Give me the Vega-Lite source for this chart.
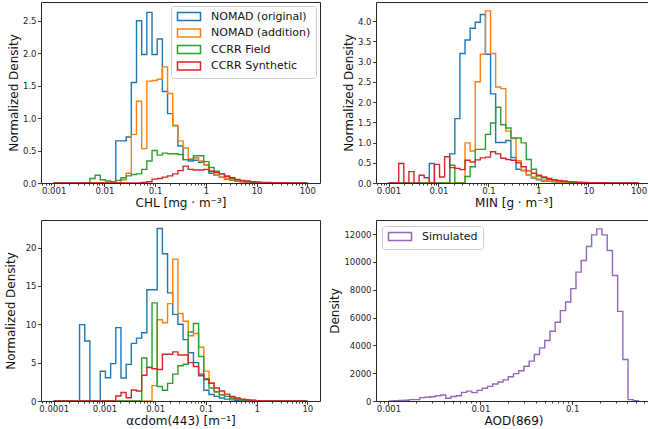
{
  "$schema": "https://vega.github.io/schema/vega-lite/v6.json",
  "background": "white",
  "padding": {"left": 3, "top": 1, "right": 0, "bottom": 0},
  "columns": 2,
  "spacing": {"row": 37, "column": 56},
  "bounds": "flush",
  "datasets": {
    "chl": [
      {"x": 0.001, "NOMAD (original)": 0, "NOMAD (addition)": 0, "CCRR Field": 0, "CCRR Synthetic": 0},
      {"x": 0.0012649, "NOMAD (original)": 0, "NOMAD (addition)": 0, "CCRR Field": 0, "CCRR Synthetic": 0},
      {"x": 0.0015999, "NOMAD (original)": 0, "NOMAD (addition)": 0, "CCRR Field": 0, "CCRR Synthetic": 0},
      {"x": 0.0020236, "NOMAD (original)": 0, "NOMAD (addition)": 0, "CCRR Field": 0, "CCRR Synthetic": 0},
      {"x": 0.0025596, "NOMAD (original)": 0, "NOMAD (addition)": 0, "CCRR Field": 0, "CCRR Synthetic": 0},
      {"x": 0.0032375, "NOMAD (original)": 0, "NOMAD (addition)": 0, "CCRR Field": 0, "CCRR Synthetic": 0},
      {"x": 0.004095, "NOMAD (original)": 0, "NOMAD (addition)": 0, "CCRR Field": 0, "CCRR Synthetic": 0},
      {"x": 0.0051796, "NOMAD (original)": 0, "NOMAD (addition)": 0, "CCRR Field": 0.07, "CCRR Synthetic": 0},
      {"x": 0.0065515, "NOMAD (original)": 0, "NOMAD (addition)": 0, "CCRR Field": 0.12, "CCRR Synthetic": 0},
      {"x": 0.0082868, "NOMAD (original)": 0, "NOMAD (addition)": 0, "CCRR Field": 0.05, "CCRR Synthetic": 0},
      {"x": 0.010481, "NOMAD (original)": 0, "NOMAD (addition)": 0, "CCRR Field": 0.03, "CCRR Synthetic": 0},
      {"x": 0.013257, "NOMAD (original)": 0, "NOMAD (addition)": 0, "CCRR Field": 0.02, "CCRR Synthetic": 0},
      {"x": 0.016769, "NOMAD (original)": 0.65, "NOMAD (addition)": 0, "CCRR Field": 0.04, "CCRR Synthetic": 0},
      {"x": 0.02121, "NOMAD (original)": 0.65, "NOMAD (addition)": 0.05, "CCRR Field": 0.08, "CCRR Synthetic": 0},
      {"x": 0.026827, "NOMAD (original)": 0.71, "NOMAD (addition)": 0.15, "CCRR Field": 0.11, "CCRR Synthetic": 0},
      {"x": 0.033932, "NOMAD (original)": 1.55, "NOMAD (addition)": 0.75, "CCRR Field": 0.13, "CCRR Synthetic": 0},
      {"x": 0.04292, "NOMAD (original)": 2.5, "NOMAD (addition)": 1.26, "CCRR Field": 0.14, "CCRR Synthetic": 0},
      {"x": 0.054287, "NOMAD (original)": 1.98, "NOMAD (addition)": 0.53, "CCRR Field": 0.21, "CCRR Synthetic": 0.01},
      {"x": 0.068666, "NOMAD (original)": 2.63, "NOMAD (addition)": 1.57, "CCRR Field": 0.34, "CCRR Synthetic": 0.02},
      {"x": 0.086852, "NOMAD (original)": 1.98, "NOMAD (addition)": 1.58, "CCRR Field": 0.5, "CCRR Synthetic": 0.06},
      {"x": 0.10986, "NOMAD (original)": 2.22, "NOMAD (addition)": 1.6, "CCRR Field": 0.43, "CCRR Synthetic": 0.07},
      {"x": 0.13895, "NOMAD (original)": 1.41, "NOMAD (addition)": 1.79, "CCRR Field": 0.46, "CCRR Synthetic": 0.09},
      {"x": 0.17575, "NOMAD (original)": 1.07, "NOMAD (addition)": 1.38, "CCRR Field": 0.45, "CCRR Synthetic": 0.11},
      {"x": 0.22231, "NOMAD (original)": 0.88, "NOMAD (addition)": 0.89, "CCRR Field": 0.45, "CCRR Synthetic": 0.14},
      {"x": 0.28119, "NOMAD (original)": 0.57, "NOMAD (addition)": 0.65, "CCRR Field": 0.44, "CCRR Synthetic": 0.19},
      {"x": 0.35567, "NOMAD (original)": 0.36, "NOMAD (addition)": 0.54, "CCRR Field": 0.36, "CCRR Synthetic": 0.26},
      {"x": 0.44987, "NOMAD (original)": 0.34, "NOMAD (addition)": 0.37, "CCRR Field": 0.36, "CCRR Synthetic": 0.21},
      {"x": 0.56902, "NOMAD (original)": 0.35, "NOMAD (addition)": 0.39, "CCRR Field": 0.42, "CCRR Synthetic": 0.2},
      {"x": 0.71969, "NOMAD (original)": 0.32, "NOMAD (addition)": 0.34, "CCRR Field": 0.42, "CCRR Synthetic": 0.2},
      {"x": 0.9103, "NOMAD (original)": 0.28, "NOMAD (addition)": 0.28, "CCRR Field": 0.33, "CCRR Synthetic": 0.21},
      {"x": 1.1514, "NOMAD (original)": 0.15, "NOMAD (addition)": 0.18, "CCRR Field": 0.24, "CCRR Synthetic": 0.18},
      {"x": 1.4564, "NOMAD (original)": 0.12, "NOMAD (addition)": 0.12, "CCRR Field": 0.18, "CCRR Synthetic": 0.16},
      {"x": 1.8421, "NOMAD (original)": 0.09, "NOMAD (addition)": 0.09, "CCRR Field": 0.14, "CCRR Synthetic": 0.14},
      {"x": 2.33, "NOMAD (original)": 0.06, "NOMAD (addition)": 0.07, "CCRR Field": 0.11, "CCRR Synthetic": 0.1},
      {"x": 2.9472, "NOMAD (original)": 0.04, "NOMAD (addition)": 0.045, "CCRR Field": 0.07, "CCRR Synthetic": 0.08},
      {"x": 3.7276, "NOMAD (original)": 0.03, "NOMAD (addition)": 0.03, "CCRR Field": 0.05, "CCRR Synthetic": 0.055},
      {"x": 4.7149, "NOMAD (original)": 0.02, "NOMAD (addition)": 0.02, "CCRR Field": 0.03, "CCRR Synthetic": 0.04},
      {"x": 5.9636, "NOMAD (original)": 0.01, "NOMAD (addition)": 0.01, "CCRR Field": 0.02, "CCRR Synthetic": 0.03},
      {"x": 7.5432, "NOMAD (original)": 0.006, "NOMAD (addition)": 0.005, "CCRR Field": 0.01, "CCRR Synthetic": 0.02},
      {"x": 9.5412, "NOMAD (original)": 0.004, "NOMAD (addition)": 0.003, "CCRR Field": 0.006, "CCRR Synthetic": 0.015},
      {"x": 12.068, "NOMAD (original)": 0.002, "NOMAD (addition)": 0, "CCRR Field": 0.003, "CCRR Synthetic": 0.01},
      {"x": 15.264, "NOMAD (original)": 0, "NOMAD (addition)": 0, "CCRR Field": 0, "CCRR Synthetic": 0.007},
      {"x": 19.307, "NOMAD (original)": 0, "NOMAD (addition)": 0, "CCRR Field": 0, "CCRR Synthetic": 0.005},
      {"x": 24.421, "NOMAD (original)": 0, "NOMAD (addition)": 0, "CCRR Field": 0, "CCRR Synthetic": 0.004},
      {"x": 30.889, "NOMAD (original)": 0, "NOMAD (addition)": 0, "CCRR Field": 0, "CCRR Synthetic": 0.003},
      {"x": 39.07, "NOMAD (original)": 0, "NOMAD (addition)": 0, "CCRR Field": 0, "CCRR Synthetic": 0.002},
      {"x": 49.419, "NOMAD (original)": 0, "NOMAD (addition)": 0, "CCRR Field": 0, "CCRR Synthetic": 0},
      {"x": 62.508, "NOMAD (original)": 0, "NOMAD (addition)": 0, "CCRR Field": 0, "CCRR Synthetic": 0},
      {"x": 79.064, "NOMAD (original)": 0, "NOMAD (addition)": 0, "CCRR Field": 0, "CCRR Synthetic": 0},
      {"x": 100, "NOMAD (original)": 0, "NOMAD (addition)": 0, "CCRR Field": 0, "CCRR Synthetic": 0}
    ],
    "min": [
      {"x": 0.001, "NOMAD (original)": 0, "NOMAD (addition)": 0, "CCRR Field": 0, "CCRR Synthetic": 0},
      {"x": 0.0012649, "NOMAD (original)": 0, "NOMAD (addition)": 0, "CCRR Field": 0, "CCRR Synthetic": 0},
      {"x": 0.0015999, "NOMAD (original)": 0, "NOMAD (addition)": 0, "CCRR Field": 0, "CCRR Synthetic": 0.48},
      {"x": 0.0020236, "NOMAD (original)": 0, "NOMAD (addition)": 0, "CCRR Field": 0, "CCRR Synthetic": 0},
      {"x": 0.0025596, "NOMAD (original)": 0, "NOMAD (addition)": 0, "CCRR Field": 0, "CCRR Synthetic": 0.28},
      {"x": 0.0032375, "NOMAD (original)": 0, "NOMAD (addition)": 0, "CCRR Field": 0, "CCRR Synthetic": 0},
      {"x": 0.004095, "NOMAD (original)": 0, "NOMAD (addition)": 0, "CCRR Field": 0, "CCRR Synthetic": 0.19},
      {"x": 0.0051796, "NOMAD (original)": 0, "NOMAD (addition)": 0, "CCRR Field": 0, "CCRR Synthetic": 0.13},
      {"x": 0.0065515, "NOMAD (original)": 0.48, "NOMAD (addition)": 0, "CCRR Field": 0, "CCRR Synthetic": 0},
      {"x": 0.0082868, "NOMAD (original)": 0, "NOMAD (addition)": 0, "CCRR Field": 0, "CCRR Synthetic": 0.46},
      {"x": 0.010481, "NOMAD (original)": 0, "NOMAD (addition)": 0, "CCRR Field": 0, "CCRR Synthetic": 0.15},
      {"x": 0.013257, "NOMAD (original)": 0, "NOMAD (addition)": 0, "CCRR Field": 0, "CCRR Synthetic": 0.65},
      {"x": 0.016769, "NOMAD (original)": 0.72, "NOMAD (addition)": 0, "CCRR Field": 0.44, "CCRR Synthetic": 0.38},
      {"x": 0.02121, "NOMAD (original)": 1.59, "NOMAD (addition)": 0, "CCRR Field": 0, "CCRR Synthetic": 0.36},
      {"x": 0.026827, "NOMAD (original)": 3.2, "NOMAD (addition)": 0, "CCRR Field": 0, "CCRR Synthetic": 0.33},
      {"x": 0.033932, "NOMAD (original)": 3.53, "NOMAD (addition)": 0.99, "CCRR Field": 0.16, "CCRR Synthetic": 0.56},
      {"x": 0.04292, "NOMAD (original)": 3.82, "NOMAD (addition)": 0.79, "CCRR Field": 0.4, "CCRR Synthetic": 0.52},
      {"x": 0.054287, "NOMAD (original)": 3.97, "NOMAD (addition)": 2.5, "CCRR Field": 0.83, "CCRR Synthetic": 0.57},
      {"x": 0.068666, "NOMAD (original)": 4.16, "NOMAD (addition)": 3.18, "CCRR Field": 0.83, "CCRR Synthetic": 0.62},
      {"x": 0.086852, "NOMAD (original)": 3.18, "NOMAD (addition)": 4.25, "CCRR Field": 1.2, "CCRR Synthetic": 0.64},
      {"x": 0.10986, "NOMAD (original)": 2.2, "NOMAD (addition)": 3.2, "CCRR Field": 1.48, "CCRR Synthetic": 0.77},
      {"x": 0.13895, "NOMAD (original)": 1.0, "NOMAD (addition)": 2.37, "CCRR Field": 1.87, "CCRR Synthetic": 0.72},
      {"x": 0.17575, "NOMAD (original)": 1.0, "NOMAD (addition)": 2.33, "CCRR Field": 1.44, "CCRR Synthetic": 0.61},
      {"x": 0.22231, "NOMAD (original)": 1.05, "NOMAD (addition)": 1.28, "CCRR Field": 1.36, "CCRR Synthetic": 0.58},
      {"x": 0.28119, "NOMAD (original)": 0.63, "NOMAD (addition)": 1.1, "CCRR Field": 1.11, "CCRR Synthetic": 0.56},
      {"x": 0.35567, "NOMAD (original)": 0.34, "NOMAD (addition)": 0.55, "CCRR Field": 1.11, "CCRR Synthetic": 0.5},
      {"x": 0.44987, "NOMAD (original)": 0.31, "NOMAD (addition)": 0.31, "CCRR Field": 0.99, "CCRR Synthetic": 0.4},
      {"x": 0.56902, "NOMAD (original)": 0.2, "NOMAD (addition)": 0.2, "CCRR Field": 0.58, "CCRR Synthetic": 0.3},
      {"x": 0.71969, "NOMAD (original)": 0.12, "NOMAD (addition)": 0.15, "CCRR Field": 0.34, "CCRR Synthetic": 0.24},
      {"x": 0.9103, "NOMAD (original)": 0.08, "NOMAD (addition)": 0.1, "CCRR Field": 0.17, "CCRR Synthetic": 0.19},
      {"x": 1.1514, "NOMAD (original)": 0.05, "NOMAD (addition)": 0.07, "CCRR Field": 0.13, "CCRR Synthetic": 0.15},
      {"x": 1.4564, "NOMAD (original)": 0.04, "NOMAD (addition)": 0.05, "CCRR Field": 0.09, "CCRR Synthetic": 0.11},
      {"x": 1.8421, "NOMAD (original)": 0.03, "NOMAD (addition)": 0.035, "CCRR Field": 0.065, "CCRR Synthetic": 0.08},
      {"x": 2.33, "NOMAD (original)": 0.02, "NOMAD (addition)": 0.025, "CCRR Field": 0.05, "CCRR Synthetic": 0.065},
      {"x": 2.9472, "NOMAD (original)": 0.015, "NOMAD (addition)": 0.02, "CCRR Field": 0.035, "CCRR Synthetic": 0.05},
      {"x": 3.7276, "NOMAD (original)": 0.01, "NOMAD (addition)": 0.012, "CCRR Field": 0.025, "CCRR Synthetic": 0.035},
      {"x": 4.7149, "NOMAD (original)": 0.006, "NOMAD (addition)": 0.008, "CCRR Field": 0.015, "CCRR Synthetic": 0.025},
      {"x": 5.9636, "NOMAD (original)": 0.004, "NOMAD (addition)": 0.005, "CCRR Field": 0.01, "CCRR Synthetic": 0.02},
      {"x": 7.5432, "NOMAD (original)": 0, "NOMAD (addition)": 0, "CCRR Field": 0.005, "CCRR Synthetic": 0.015},
      {"x": 9.5412, "NOMAD (original)": 0, "NOMAD (addition)": 0, "CCRR Field": 0, "CCRR Synthetic": 0.01},
      {"x": 12.068, "NOMAD (original)": 0, "NOMAD (addition)": 0, "CCRR Field": 0, "CCRR Synthetic": 0.008},
      {"x": 15.264, "NOMAD (original)": 0, "NOMAD (addition)": 0, "CCRR Field": 0, "CCRR Synthetic": 0.005},
      {"x": 19.307, "NOMAD (original)": 0, "NOMAD (addition)": 0, "CCRR Field": 0, "CCRR Synthetic": 0.004},
      {"x": 24.421, "NOMAD (original)": 0, "NOMAD (addition)": 0, "CCRR Field": 0, "CCRR Synthetic": 0.003},
      {"x": 30.889, "NOMAD (original)": 0, "NOMAD (addition)": 0, "CCRR Field": 0, "CCRR Synthetic": 0},
      {"x": 39.07, "NOMAD (original)": 0, "NOMAD (addition)": 0, "CCRR Field": 0, "CCRR Synthetic": 0},
      {"x": 49.419, "NOMAD (original)": 0, "NOMAD (addition)": 0, "CCRR Field": 0, "CCRR Synthetic": 0},
      {"x": 62.508, "NOMAD (original)": 0, "NOMAD (addition)": 0, "CCRR Field": 0, "CCRR Synthetic": 0},
      {"x": 79.064, "NOMAD (original)": 0, "NOMAD (addition)": 0, "CCRR Field": 0, "CCRR Synthetic": 0},
      {"x": 100, "NOMAD (original)": 0, "NOMAD (addition)": 0, "CCRR Field": 0, "CCRR Synthetic": 0}
    ],
    "acdom": [
      {"x": 0.0001, "NOMAD (original)": 0, "NOMAD (addition)": 0, "CCRR Field": 0, "CCRR Synthetic": 0},
      {"x": 0.00012649, "NOMAD (original)": 0, "NOMAD (addition)": 0, "CCRR Field": 0, "CCRR Synthetic": 0},
      {"x": 0.00015999, "NOMAD (original)": 0, "NOMAD (addition)": 0, "CCRR Field": 0, "CCRR Synthetic": 0},
      {"x": 0.00020236, "NOMAD (original)": 0, "NOMAD (addition)": 0, "CCRR Field": 0, "CCRR Synthetic": 0},
      {"x": 0.00025596, "NOMAD (original)": 0, "NOMAD (addition)": 0, "CCRR Field": 0, "CCRR Synthetic": 0},
      {"x": 0.00032375, "NOMAD (original)": 9.96, "NOMAD (addition)": 0, "CCRR Field": 0, "CCRR Synthetic": 0},
      {"x": 0.0004095, "NOMAD (original)": 7.83, "NOMAD (addition)": 0, "CCRR Field": 0, "CCRR Synthetic": 0},
      {"x": 0.00051796, "NOMAD (original)": 0, "NOMAD (addition)": 0, "CCRR Field": 0, "CCRR Synthetic": 0},
      {"x": 0.00065515, "NOMAD (original)": 0, "NOMAD (addition)": 0, "CCRR Field": 0, "CCRR Synthetic": 0},
      {"x": 0.00082868, "NOMAD (original)": 3.87, "NOMAD (addition)": 0, "CCRR Field": 0, "CCRR Synthetic": 0},
      {"x": 0.0010481, "NOMAD (original)": 3.04, "NOMAD (addition)": 0, "CCRR Field": 0, "CCRR Synthetic": 0},
      {"x": 0.0013257, "NOMAD (original)": 4.87, "NOMAD (addition)": 0, "CCRR Field": 0, "CCRR Synthetic": 0},
      {"x": 0.0016769, "NOMAD (original)": 9.57, "NOMAD (addition)": 0, "CCRR Field": 0, "CCRR Synthetic": 0.65},
      {"x": 0.002121, "NOMAD (original)": 3.0, "NOMAD (addition)": 0, "CCRR Field": 0, "CCRR Synthetic": 1.1},
      {"x": 0.0026827, "NOMAD (original)": 4.78, "NOMAD (addition)": 0, "CCRR Field": 0, "CCRR Synthetic": 0.43},
      {"x": 0.0033932, "NOMAD (original)": 7.52, "NOMAD (addition)": 0, "CCRR Field": 0, "CCRR Synthetic": 1.43},
      {"x": 0.004292, "NOMAD (original)": 8.2, "NOMAD (addition)": 0, "CCRR Field": 0, "CCRR Synthetic": 1.3},
      {"x": 0.0054287, "NOMAD (original)": 8.9, "NOMAD (addition)": 0, "CCRR Field": 5.6, "CCRR Synthetic": 3.35},
      {"x": 0.0068666, "NOMAD (original)": 14.5, "NOMAD (addition)": 0, "CCRR Field": 4.4, "CCRR Synthetic": 4.35},
      {"x": 0.0086852, "NOMAD (original)": 14.5, "NOMAD (addition)": 2.0, "CCRR Field": 12.8, "CCRR Synthetic": 4.2},
      {"x": 0.010986, "NOMAD (original)": 22.5, "NOMAD (addition)": 10.6, "CCRR Field": 1.9, "CCRR Synthetic": 4.1},
      {"x": 0.013895, "NOMAD (original)": 19.2, "NOMAD (addition)": 10.2, "CCRR Field": 1.4, "CCRR Synthetic": 6.1},
      {"x": 0.017575, "NOMAD (original)": 14.1, "NOMAD (addition)": 12.7, "CCRR Field": 2.3, "CCRR Synthetic": 6.1},
      {"x": 0.022231, "NOMAD (original)": 11.3, "NOMAD (addition)": 18.5, "CCRR Field": 3.5, "CCRR Synthetic": 6.4},
      {"x": 0.028119, "NOMAD (original)": 10.0, "NOMAD (addition)": 11.4, "CCRR Field": 4.6, "CCRR Synthetic": 6.0},
      {"x": 0.035567, "NOMAD (original)": 8.0, "NOMAD (addition)": 10.4, "CCRR Field": 4.8, "CCRR Synthetic": 6.0},
      {"x": 0.044987, "NOMAD (original)": 6.3, "NOMAD (addition)": 8.5, "CCRR Field": 9.0, "CCRR Synthetic": 5.0},
      {"x": 0.056902, "NOMAD (original)": 5.0, "NOMAD (addition)": 8.8, "CCRR Field": 10.1, "CCRR Synthetic": 4.5},
      {"x": 0.071969, "NOMAD (original)": 3.3, "NOMAD (addition)": 7.0, "CCRR Field": 5.8, "CCRR Synthetic": 3.5},
      {"x": 0.09103, "NOMAD (original)": 1.4, "NOMAD (addition)": 3.9, "CCRR Field": 2.9, "CCRR Synthetic": 2.8},
      {"x": 0.11514, "NOMAD (original)": 0.85, "NOMAD (addition)": 2.4, "CCRR Field": 1.7, "CCRR Synthetic": 2.3},
      {"x": 0.14564, "NOMAD (original)": 0.6, "NOMAD (addition)": 1.2, "CCRR Field": 1.2, "CCRR Synthetic": 1.7},
      {"x": 0.18421, "NOMAD (original)": 0.4, "NOMAD (addition)": 0.8, "CCRR Field": 0.8, "CCRR Synthetic": 1.3},
      {"x": 0.233, "NOMAD (original)": 0.25, "NOMAD (addition)": 0.6, "CCRR Field": 0.6, "CCRR Synthetic": 0.9},
      {"x": 0.29472, "NOMAD (original)": 0.15, "NOMAD (addition)": 0.4, "CCRR Field": 0.4, "CCRR Synthetic": 0.6},
      {"x": 0.37276, "NOMAD (original)": 0.1, "NOMAD (addition)": 0.3, "CCRR Field": 0.25, "CCRR Synthetic": 0.4},
      {"x": 0.47149, "NOMAD (original)": 0.05, "NOMAD (addition)": 0.2, "CCRR Field": 0.15, "CCRR Synthetic": 0.25},
      {"x": 0.59636, "NOMAD (original)": 0.03, "NOMAD (addition)": 0.15, "CCRR Field": 0.1, "CCRR Synthetic": 0.15},
      {"x": 0.75432, "NOMAD (original)": 0, "NOMAD (addition)": 0.1, "CCRR Field": 0.05, "CCRR Synthetic": 0.1},
      {"x": 0.95412, "NOMAD (original)": 0, "NOMAD (addition)": 0.05, "CCRR Field": 0, "CCRR Synthetic": 0.05},
      {"x": 1.2068, "NOMAD (original)": 0, "NOMAD (addition)": 0, "CCRR Field": 0, "CCRR Synthetic": 0},
      {"x": 1.5264, "NOMAD (original)": 0, "NOMAD (addition)": 0, "CCRR Field": 0, "CCRR Synthetic": 0},
      {"x": 1.9307, "NOMAD (original)": 0, "NOMAD (addition)": 0, "CCRR Field": 0, "CCRR Synthetic": 0},
      {"x": 2.4421, "NOMAD (original)": 0, "NOMAD (addition)": 0, "CCRR Field": 0, "CCRR Synthetic": 0},
      {"x": 3.0889, "NOMAD (original)": 0, "NOMAD (addition)": 0, "CCRR Field": 0, "CCRR Synthetic": 0},
      {"x": 3.907, "NOMAD (original)": 0, "NOMAD (addition)": 0, "CCRR Field": 0, "CCRR Synthetic": 0},
      {"x": 4.9419, "NOMAD (original)": 0, "NOMAD (addition)": 0, "CCRR Field": 0, "CCRR Synthetic": 0},
      {"x": 6.2508, "NOMAD (original)": 0, "NOMAD (addition)": 0, "CCRR Field": 0, "CCRR Synthetic": 0},
      {"x": 7.9064, "NOMAD (original)": 0, "NOMAD (addition)": 0, "CCRR Field": 0, "CCRR Synthetic": 0},
      {"x": 10, "NOMAD (original)": 0, "NOMAD (addition)": 0, "CCRR Field": 0, "CCRR Synthetic": 0}
    ],
    "aod": [
      {"x": 0.001, "Simulated": 0},
      {"x": 0.0011395, "Simulated": 30},
      {"x": 0.0012984, "Simulated": 40},
      {"x": 0.0014795, "Simulated": 50},
      {"x": 0.0016858, "Simulated": 100},
      {"x": 0.001921, "Simulated": 100},
      {"x": 0.0021889, "Simulated": 240},
      {"x": 0.0024942, "Simulated": 275},
      {"x": 0.002842, "Simulated": 310},
      {"x": 0.0032384, "Simulated": 380},
      {"x": 0.0036901, "Simulated": 430},
      {"x": 0.0042047, "Simulated": 200},
      {"x": 0.0047912, "Simulated": 320},
      {"x": 0.0054594, "Simulated": 380},
      {"x": 0.0062208, "Simulated": 620},
      {"x": 0.0070884, "Simulated": 710},
      {"x": 0.0080771, "Simulated": 600},
      {"x": 0.0092035, "Simulated": 765},
      {"x": 0.010487, "Simulated": 920},
      {"x": 0.01195, "Simulated": 1050},
      {"x": 0.013617, "Simulated": 1220},
      {"x": 0.015516, "Simulated": 1370},
      {"x": 0.01768, "Simulated": 1520},
      {"x": 0.020146, "Simulated": 1740},
      {"x": 0.022956, "Simulated": 1970},
      {"x": 0.026158, "Simulated": 2180},
      {"x": 0.029806, "Simulated": 2500},
      {"x": 0.033963, "Simulated": 2870},
      {"x": 0.0387, "Simulated": 3350},
      {"x": 0.044097, "Simulated": 3820},
      {"x": 0.050247, "Simulated": 4350},
      {"x": 0.057255, "Simulated": 5020},
      {"x": 0.065241, "Simulated": 5660},
      {"x": 0.07434, "Simulated": 6500},
      {"x": 0.084708, "Simulated": 7120},
      {"x": 0.096523, "Simulated": 8080},
      {"x": 0.10998, "Simulated": 9270},
      {"x": 0.12532, "Simulated": 10110},
      {"x": 0.1428, "Simulated": 11110},
      {"x": 0.16272, "Simulated": 11950},
      {"x": 0.18541, "Simulated": 12380},
      {"x": 0.21127, "Simulated": 11950},
      {"x": 0.24073, "Simulated": 10830},
      {"x": 0.2743, "Simulated": 9030},
      {"x": 0.31256, "Simulated": 6450},
      {"x": 0.35616, "Simulated": 2990},
      {"x": 0.40583, "Simulated": 100},
      {"x": 0.46243, "Simulated": 30},
      {"x": 0.52693, "Simulated": 0}
    ]
  },
  "concat": [
    {
      "width": 279, "height": 181,
      "data": {"name": "chl"},
      "transform": [{"fold": ["NOMAD (original)", "NOMAD (addition)", "CCRR Field", "CCRR Synthetic"], "as": ["series", "density"]}],
      "mark": {"type": "line", "interpolate": "step-after", "strokeWidth": 1.4, "strokeJoin": "miter", "clip": true},
      "encoding": {
        "x": {"field": "x", "type": "quantitative", "title": "CHL [mg · m⁻³]",
          "scale": {"type": "log", "domain": [0.00056234, 177.83], "nice": false},
          "axis": {"values": [0.0006,0.0007,0.0008,0.0009,0.001,0.002,0.003,0.004,0.005,0.006,0.007,0.008,0.009,0.01,0.02,0.03,0.04,0.05,0.06,0.07,0.08,0.09,0.1,0.2,0.3,0.4,0.5,0.6,0.7,0.8,0.9,1,2,3,4,5,6,7,8,9,10,20,30,40,50,60,70,80,90,100],
            "labelExpr": "abs(log(datum.value)/LN10 - round(log(datum.value)/LN10)) < 1e-6 ? format(datum.value, '~g') : ''",
            "labelPadding": 0, "titlePadding": 2.5,
            "tickSize": {"condition": {"test": "abs(log(datum.value)/LN10 - round(log(datum.value)/LN10)) < 1e-6", "value": 3.5}, "value": 2}}},
        "y": {"field": "density", "type": "quantitative", "title": "Normalized Density",
          "scale": {"domain": [0, 2.79], "nice": false},
          "axis": {"values": [0, 0.5, 1, 1.5, 2, 2.5], "format": ".1f"}},
        "color": {"field": "series", "type": "nominal",
          "scale": {"domain": ["NOMAD (original)", "NOMAD (addition)", "CCRR Field", "CCRR Synthetic"], "range": ["#1f77b4", "#ff7f0e", "#2ca02c", "#d62728"]},
          "legend": {"orient": "top-right", "offset": 4, "title": null,
            "symbolType": "M-1,-1H4.75V1H-1Z", "symbolSize": 64, "symbolStrokeWidth": 1.5,
            "labelFontSize": 11, "labelOffset": 24, "padding": 5, "rowPadding": 1.5,
            "labelExpr": "datum.label + '  '",
            "strokeColor": "#cccccc", "fillColor": "rgba(255,255,255,0.8)", "cornerRadius": 3}}
      }
    },
    {
      "width": 275, "height": 181,
      "data": {"name": "min"},
      "transform": [{"fold": ["NOMAD (original)", "NOMAD (addition)", "CCRR Field", "CCRR Synthetic"], "as": ["series", "density"]}],
      "mark": {"type": "line", "interpolate": "step-after", "strokeWidth": 1.4, "strokeJoin": "miter", "clip": true},
      "encoding": {
        "x": {"field": "x", "type": "quantitative", "title": "MIN [g · m⁻³]",
          "scale": {"type": "log", "domain": [0.00056234, 177.83], "nice": false},
          "axis": {"values": [0.0006,0.0007,0.0008,0.0009,0.001,0.002,0.003,0.004,0.005,0.006,0.007,0.008,0.009,0.01,0.02,0.03,0.04,0.05,0.06,0.07,0.08,0.09,0.1,0.2,0.3,0.4,0.5,0.6,0.7,0.8,0.9,1,2,3,4,5,6,7,8,9,10,20,30,40,50,60,70,80,90,100],
            "labelExpr": "abs(log(datum.value)/LN10 - round(log(datum.value)/LN10)) < 1e-6 ? format(datum.value, '~g') : ''",
            "labelPadding": 0, "titlePadding": 2.5,
            "tickSize": {"condition": {"test": "abs(log(datum.value)/LN10 - round(log(datum.value)/LN10)) < 1e-6", "value": 3.5}, "value": 2}}},
        "y": {"field": "density", "type": "quantitative", "title": "Normalized Density",
          "scale": {"domain": [0, 4.47], "nice": false},
          "axis": {"values": [0, 0.5, 1, 1.5, 2, 2.5, 3, 3.5, 4], "format": ".1f"}},
        "color": {"field": "series", "type": "nominal",
          "scale": {"domain": ["NOMAD (original)", "NOMAD (addition)", "CCRR Field", "CCRR Synthetic"], "range": ["#1f77b4", "#ff7f0e", "#2ca02c", "#d62728"]},
          "legend": null}
      }
    },
    {
      "width": 279, "height": 181,
      "data": {"name": "acdom"},
      "transform": [{"fold": ["NOMAD (original)", "NOMAD (addition)", "CCRR Field", "CCRR Synthetic"], "as": ["series", "density"]}],
      "mark": {"type": "line", "interpolate": "step-after", "strokeWidth": 1.4, "strokeJoin": "miter", "clip": true},
      "encoding": {
        "x": {"field": "x", "type": "quantitative", "title": "αcdom(443) [m⁻¹]",
          "scale": {"type": "log", "domain": [0.000056234, 17.783], "nice": false},
          "axis": {"values": [0.00006,0.00007,0.00008,0.00009,0.0001,0.0002,0.0003,0.0004,0.0005,0.0006,0.0007,0.0008,0.0009,0.001,0.002,0.003,0.004,0.005,0.006,0.007,0.008,0.009,0.01,0.02,0.03,0.04,0.05,0.06,0.07,0.08,0.09,0.1,0.2,0.3,0.4,0.5,0.6,0.7,0.8,0.9,1,2,3,4,5,6,7,8,9,10],
            "labelExpr": "abs(log(datum.value)/LN10 - round(log(datum.value)/LN10)) < 1e-6 ? format(datum.value, '~g') : ''",
            "labelPadding": 0, "titlePadding": 2.5,
            "tickSize": {"condition": {"test": "abs(log(datum.value)/LN10 - round(log(datum.value)/LN10)) < 1e-6", "value": 3.5}, "value": 2}}},
        "y": {"field": "density", "type": "quantitative", "title": "Normalized Density",
          "scale": {"domain": [0, 23.6], "nice": false},
          "axis": {"values": [0, 5, 10, 15, 20], "format": "d", "titlePadding": 8}},
        "color": {"field": "series", "type": "nominal",
          "scale": {"domain": ["NOMAD (original)", "NOMAD (addition)", "CCRR Field", "CCRR Synthetic"], "range": ["#1f77b4", "#ff7f0e", "#2ca02c", "#d62728"]},
          "legend": null}
      }
    },
    {
      "width": 275, "height": 181,
      "data": {"name": "aod"},
      "transform": [{"fold": ["Simulated"], "as": ["series", "density"]}],
      "mark": {"type": "line", "interpolate": "step-after", "strokeWidth": 1.4, "strokeJoin": "miter", "clip": true},
      "encoding": {
        "x": {"field": "x", "type": "quantitative", "title": "AOD(869)",
          "scale": {"type": "log", "domain": [0.000731, 0.7212], "nice": false},
          "axis": {"values": [0.0008,0.0009,0.001,0.002,0.003,0.004,0.005,0.006,0.007,0.008,0.009,0.01,0.02,0.03,0.04,0.05,0.06,0.07,0.08,0.09,0.1,0.2,0.3,0.4,0.5,0.6,0.7],
            "labelExpr": "abs(log(datum.value)/LN10 - round(log(datum.value)/LN10)) < 1e-6 ? format(datum.value, '~g') : ''",
            "labelPadding": 0, "titlePadding": 2.5,
            "tickSize": {"condition": {"test": "abs(log(datum.value)/LN10 - round(log(datum.value)/LN10)) < 1e-6", "value": 3.5}, "value": 2}}},
        "y": {"field": "density", "type": "quantitative", "title": "Density",
          "scale": {"domain": [0, 13020], "nice": false},
          "axis": {"values": [0, 2000, 4000, 6000, 8000, 10000, 12000], "format": "d"}},
        "color": {"field": "series", "type": "nominal",
          "scale": {"domain": ["Simulated"], "range": ["#9467bd"]},
          "legend": {"orient": "top-left", "offset": 6, "title": null,
            "symbolType": "M-1,-1H4.75V1H-1Z", "symbolSize": 64, "symbolStrokeWidth": 1.5,
            "labelFontSize": 11, "labelOffset": 24, "padding": 5, "rowPadding": 1.5,
            "labelExpr": "datum.label + '  '",
            "strokeColor": "#cccccc", "fillColor": "rgba(255,255,255,0.8)", "cornerRadius": 3}}
      }
    }
  ],
  "resolve": {"scale": {"color": "independent"}, "legend": {"color": "independent"}},
  "config": {
    "font": "DejaVu Sans",
    "view": {"stroke": "#262626", "strokeWidth": 1},
    "axis": {"grid": false, "domain": false, "tickColor": "#262626", "tickWidth": 0.9, "labelColor": "#262626",
      "labelFont": "DejaVu Sans", "labelFontSize": 8.5, "titleFont": "DejaVu Sans", "titleFontSize": 12,
      "titleFontWeight": "normal", "titleColor": "#111111", "tickSize": 3.5, "labelPadding": 1.5, "titlePadding": 2,
      "labelOverlap": false, "labelFlush": false, "labelBound": false},
    "legend": {"labelFont": "DejaVu Sans", "labelColor": "#111111"}
  }
}
